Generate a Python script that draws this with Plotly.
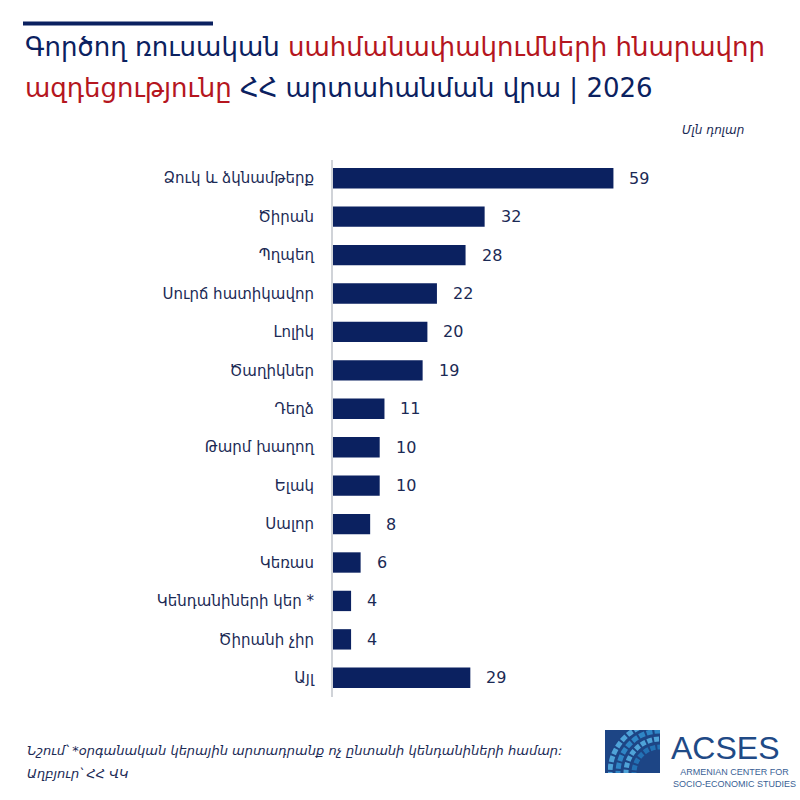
import base64
import plotly.graph_objects as go

categories = ["Ձուկ և ձկնամթերք", "Ծիրան", "Պղպեղ", "Սուրճ հատիկավոր", "Լոլիկ",
              "Ծաղիկներ", "Դեղձ", "Թարմ խաղող", "Ելակ", "Սալոր", "Կեռաս",
              "Կենդանիների կեր *", "Ծիրանի չիր", "Այլ"]
values = [59, 32, 28, 22, 20, 19, 11, 10, 10, 8, 6, 4, 4, 29]

NAVY = "#0b2160"
RED = "#b5161e"
TXT = "#1b2a55"
FONT = "DejaVu Sans"

W = H = 800
ML, MR, MT, MB = 332, 20, 159, 103
PW, PH = W - ML - MR, H - MT - MB
XMAX = PW / 4.77


def px(x):
    return (x - ML) / PW


def py(y):
    return 1 - (y - MT) / PH


fig = go.Figure(go.Bar(
    x=values, y=categories, orientation="h",
    marker=dict(color=NAVY, line=dict(width=0)),
    width=0.53, hoverinfo="skip",
))

annotations = []
for c, v in zip(categories, values):
    annotations.append(dict(x=v, y=c, xref="x", yref="y", text=str(v), showarrow=False,
                            xanchor="left", xshift=14,
                            font=dict(family=FONT, size=16, color=TXT)))

# title
annotations += [
    dict(x=px(23), y=py(47), xref="paper", yref="paper", xanchor="left", yanchor="middle",
         showarrow=False, font=dict(family=FONT, size=26, color=NAVY),
         text=f"Գործող ռուսական <span style='color:{RED}'>սահմանափակումների հնարավոր</span>"),
    dict(x=px(23), y=py(89), xref="paper", yref="paper", xanchor="left", yanchor="middle",
         showarrow=False, font=dict(family=FONT, size=26, color=NAVY),
         text=f"<span style='color:{RED}'>ազդեցությունը</span> ՀՀ արտահանման վրա | 2026"),
    dict(x=px(746), y=py(130), xref="paper", yref="paper", xanchor="right", yanchor="middle",
         showarrow=False, font=dict(family=FONT, size=12, color=TXT),
         text="<i>Մլն դոլար</i>"),
    dict(x=px(25), y=py(750), xref="paper", yref="paper", xanchor="left", yanchor="middle",
         showarrow=False, font=dict(family=FONT, size=13, color=TXT),
         text="<i>Նշում՝ *օրգանական կերային արտադրանք ոչ ընտանի կենդանիների համար:</i>"),
    dict(x=px(25), y=py(773), xref="paper", yref="paper", xanchor="left", yanchor="middle",
         showarrow=False, font=dict(family=FONT, size=13, color=TXT),
         text="<i>Աղբյուր՝ ՀՀ ՎԿ</i>"),
    dict(x=px(669), y=py(748), xref="paper", yref="paper", xanchor="left", yanchor="middle",
         showarrow=False, font=dict(family="Liberation Sans", size=32, color="#1f4a86"),
         text="ACSES"),
    dict(x=px(671), y=py(778), xref="paper", yref="paper", xanchor="left", yanchor="middle",
         showarrow=False, font=dict(family="Liberation Sans", size=9, color="#3a5f95"),
         text="ARMENIAN CENTER FOR<br>SOCIO-ECONOMIC STUDIES"),
]

# logo graphic as inline SVG
svg = """<svg xmlns='http://www.w3.org/2000/svg' width='55' height='43' viewBox='0 0 55 43'>
<rect width='55' height='43' fill='#1d4585'/>
<g fill='none' stroke-width='5'>
<circle cx='55' cy='43' r='50' stroke='#4fa3d8' stroke-dasharray='6 2'/>
<circle cx='55' cy='43' r='42' stroke='#2f86c6' stroke-dasharray='6 2'/>
<circle cx='55' cy='43' r='34' stroke='#4fa3d8' stroke-dasharray='5 2'/>
<circle cx='55' cy='43' r='26' stroke='#2372b5' stroke-dasharray='5 2'/>
</g>
<rect x='0' y='0' width='3' height='43' fill='#1d4585'/>
</svg>"""
src = "data:image/svg+xml;base64," + base64.b64encode(svg.encode()).decode()

fig.update_layout(
    width=W, height=H,
    margin=dict(l=ML, r=MR, t=MT, b=MB),
    paper_bgcolor="white", plot_bgcolor="white",
    showlegend=False, bargap=0.47,
    xaxis=dict(range=[0, XMAX], visible=False, fixedrange=True),
    yaxis=dict(autorange="reversed", showgrid=False, zeroline=False,
               showline=False, ticks="", ticklabelstandoff=17,
               tickfont=dict(family=FONT, size=15, color=TXT)),
    annotations=annotations,
    shapes=[
        dict(type="line", xref="paper", yref="paper", x0=px(23), x1=px(213),
             y0=py(23.5), y1=py(23.5), line=dict(color=NAVY, width=4)),
        dict(type="line", xref="paper", yref="paper", x0=0, x1=0,
             y0=py(160), y1=py(697), line=dict(color="#d0d3d8", width=2)),
    ],
    images=[dict(source=src, xref="paper", yref="paper", x=px(605), y=py(730),
                 sizex=55 / PW, sizey=43 / PH, xanchor="left", yanchor="top",
                 sizing="stretch", layer="above")],
)

fig.write_html("out.html")
